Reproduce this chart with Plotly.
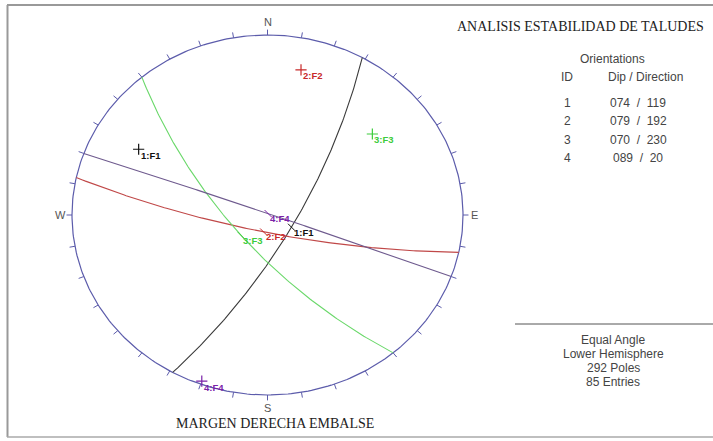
import numpy as np
import plotly.graph_objects as go

# plane data
plane_ids = [1, 2, 3, 4]
dips = [74, 79, 70, 89]
dip_dirs = [119, 192, 230, 20]
set_labels = ["1:F1", "2:F2", "3:F3", "4:F4"]
line_colors = ["#3a3a3a", "#c04848", "#6ad86a", "#6e5a8e"]
label_colors = ["#111111", "#c82a2a", "#3ccc3c", "#7a22a8"]

title_text = "ANALISIS ESTABILIDAD DE TALUDES"
footer_text = "MARGEN DERECHA EMBALSE"
info_lines = ["Equal Angle", "Lower Hemisphere", "292 Poles", "85 Entries"]

W, H = 713, 441
CX, CY = 267.5, 215.0      # net centre in pixels
RX, RY = 195.5, 180.0      # net radius in pixels (stretched)


def project(E, N, D):
    """Equal angle, lower hemisphere."""
    return E / (1 + D), N / (1 + D)


def vec(trend, plunge):
    tr, pl = np.radians(trend), np.radians(plunge)
    return np.sin(tr) * np.cos(pl), np.cos(tr) * np.cos(pl), np.sin(pl)


def great_circle(dip, ddir):
    t = np.linspace(0, np.pi, 181)
    s = np.radians(ddir - 90)
    d = np.radians(ddir)
    dp = np.radians(dip)
    E = np.cos(t) * np.sin(s) + np.sin(t) * np.sin(d) * np.cos(dp)
    N = np.cos(t) * np.cos(s) + np.sin(t) * np.cos(d) * np.cos(dp)
    D = np.sin(t) * np.sin(dp)
    return project(E, N, D)


fig = go.Figure()

# primitive circle
a = np.radians(np.arange(0, 361))
fig.add_trace(go.Scatter(x=np.sin(a), y=np.cos(a), mode="lines",
                         line=dict(color="#5c5cab", width=1.2), hoverinfo="skip"))

# 10 degree ticks
tx, ty = [], []
for az in range(0, 360, 10):
    r = np.radians(az)
    tx += [np.sin(r), np.sin(r) * 1.028, None]
    ty += [np.cos(r), np.cos(r) * 1.03, None]
fig.add_trace(go.Scatter(x=tx, y=ty, mode="lines",
                         line=dict(color="#5c5cab", width=1), hoverinfo="skip"))

# great circles
for i in range(len(plane_ids)):
    gx, gy = great_circle(dips[i], dip_dirs[i])
    fig.add_trace(go.Scatter(x=gx, y=gy, mode="lines",
                             line=dict(color=line_colors[i], width=1.1),
                             hoverinfo="skip"))

annotations = []
lab_font = dict(family="Liberation Sans", size=9.5)

for i in range(len(plane_ids)):
    # pole
    px, py = project(*vec(dip_dirs[i] + 180, 90 - dips[i]))
    fig.add_trace(go.Scatter(x=[px], y=[py], mode="markers",
                             marker=dict(symbol="cross-thin", size=8,
                                         line=dict(color=label_colors[i], width=1.2)),
                             hoverinfo="skip"))
    annotations.append(dict(x=px, y=py, text="<b>%s</b>" % set_labels[i],
                            showarrow=False, xanchor="left", yanchor="middle",
                            xshift=0, yshift=-6,
                            font=dict(lab_font, color=label_colors[i])))
    # dip vector
    dx, dy = project(*vec(dip_dirs[i], dips[i]))
    fig.add_trace(go.Scatter(x=[dx], y=[dy], mode="markers",
                             marker=dict(symbol="line-nw", size=7,
                                         line=dict(color=label_colors[i], width=1)),
                             hoverinfo="skip"))
    annotations.append(dict(x=dx, y=dy, text="<b>%s</b>" % set_labels[i],
                            showarrow=False, xanchor="left", yanchor="middle",
                            xshift=0, yshift=-5,
                            font=dict(lab_font, color=label_colors[i])))

# cardinal letters
card_font = dict(family="Liberation Sans", size=11, color="#555555")
for txt, x, y in [("N", 0, 1.07), ("S", 0, -1.07), ("W", -1.06, 0), ("E", 1.06, 0)]:
    annotations.append(dict(x=x, y=y, text=txt, showarrow=False, font=card_font))


def px2paper(x, y):
    return x / W, 1 - y / H


def ptext(text, x, y, size=12, family="Liberation Sans", color="#444444", anchor="center"):
    xp, yp = px2paper(x, y)
    annotations.append(dict(x=xp, y=yp, xref="paper", yref="paper", text=text,
                            showarrow=False, xanchor=anchor, yanchor="middle",
                            font=dict(family=family, size=size, color=color)))


ptext(title_text, 580, 27, size=14, family="Liberation Serif", color="#222222")
ptext(footer_text, 275, 423, size=14, family="Liberation Serif", color="#222222")
ptext("Orientations", 612, 59)
ptext("ID", 567, 77)
ptext("Dip / Direction", 645, 77)
row_y = [103, 121, 140, 158]
for i in range(len(plane_ids)):
    ptext(str(plane_ids[i]), 567, row_y[i])
    ptext("%03d  /  %d" % (dips[i], dip_dirs[i]), 638, row_y[i])
for j, line in enumerate(info_lines):
    ptext(line, 613, 340 + 14 * j)

shapes = [
    dict(type="line", xref="paper", yref="paper", x0=7 / W, x1=1, y0=1 - 5 / H, y1=1 - 5 / H,
         line=dict(color="#999999", width=2)),
    dict(type="line", xref="paper", yref="paper", x0=7.5 / W, x1=7.5 / W, y0=1 - 5 / H, y1=1 - 437 / H,
         line=dict(color="#999999", width=2)),
    dict(type="line", xref="paper", yref="paper", x0=7 / W, x1=1, y0=1 - 437 / H, y1=1 - 437 / H,
         line=dict(color="#aaaaaa", width=1.5)),
    dict(type="line", xref="paper", yref="paper", x0=515 / W, x1=1, y0=1 - 324 / H, y1=1 - 324 / H,
         line=dict(color="#555555", width=1)),
]

fig.update_layout(
    width=W, height=H,
    margin=dict(l=0, r=0, t=0, b=0),
    paper_bgcolor="white", plot_bgcolor="white",
    showlegend=False,
    annotations=annotations,
    shapes=shapes,
    xaxis=dict(range=[-CX / RX, (W - CX) / RX], visible=False, fixedrange=True),
    yaxis=dict(range=[-(H - CY) / RY, CY / RY], visible=False, fixedrange=True),
)

# drop the default body margin so the figure sits at the page origin
fig.write_html("out.html", config={"displayModeBar": False},
               post_script="document.body.style.margin='0';")
